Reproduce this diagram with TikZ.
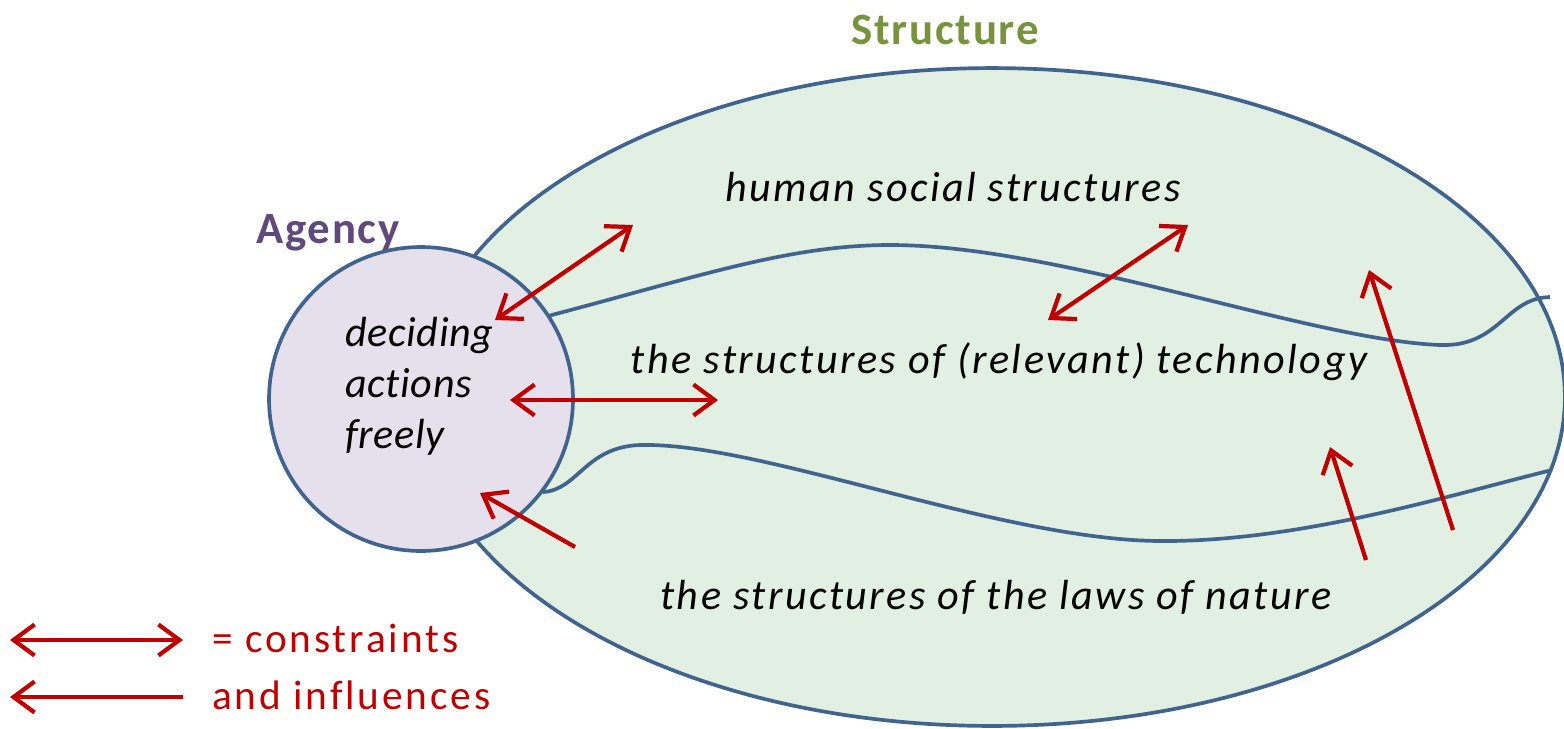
\documentclass[tikz,border=0pt]{standalone}
\usepackage{fontspec}
\setmainfont{Carlito}[Ligatures=NoCommon]
\usetikzlibrary{arrows.meta,shapes.geometric}
\definecolor{rimblue}{HTML}{41648F}
\definecolor{structfill}{HTML}{E2F0E3}
\definecolor{agentfill}{HTML}{E6E0EC}
\definecolor{linkred}{HTML}{C00000}
\definecolor{structgreen}{HTML}{77933C}
\definecolor{agentpurple}{HTML}{604A7B}
\tikzset{
  rim/.style={draw=rimblue, line width=2.1pt},
  link/.style={draw=linkred, line width=2.4pt,
    arrows={Straight Barb[length=4.2mm,width=6.2mm]-Straight Barb[length=4.2mm,width=6.2mm]}},
  pull/.style={draw=linkred, line width=2.4pt,
    arrows={-Straight Barb[length=4.2mm,width=6.2mm]}},
  realm/.style={font=\fontsize{24}{29}\selectfont\addfontfeature{LetterSpace=5.8}\itshape, text=black, inner sep=0pt},
  agenttext/.style={font=\fontsize{24}{29}\selectfont\addfontfeature{LetterSpace=1.5}\itshape, text=black, inner sep=0pt},
  heading/.style={font=\fontsize{25.5}{30}\selectfont\addfontfeature{LetterSpace=4}\bfseries, inner sep=0pt},
  legendtext/.style={font=\fontsize{23.5}{28}\selectfont\addfontfeature{LetterSpace=7}, text=linkred, inner sep=0pt, anchor=west}
}
\begin{document}
\begin{tikzpicture}[x=0.02cm, y=-0.02cm]
\useasboundingbox (0,0) rectangle (1564,728);

% the structure domain
\node[rim, fill=structfill, ellipse, minimum width=22.92cm, minimum height=13.16cm, inner sep=0pt] (structure) at (992,397) {};

% boundaries between the layers of structure
\draw[rim] (548,316) .. controls (700,276) and (790,245) .. (890,245)
  .. controls (1060,245) and (1310,340) .. (1440,345)
  .. controls (1500,347) and (1505,298) .. (1550,297);
\draw[rim] (543,492) .. controls (578,490) and (585,447) .. (640,445)
  .. controls (760,442) and (1000,540) .. (1160,541)
  .. controls (1300,542) and (1450,495) .. (1552,470);

% the agent
\node[rim, fill=agentfill, circle, minimum size=6.08cm, inner sep=0pt] (agent) at (421,399) {};

% labels
\node[heading, text=structgreen] (structlabel) at (945,30) {Structure};
\node[heading, text=agentpurple] (agentlabel) at (328,233) {Agency};
\node[realm] (social) at (953,187) {human social structures};
\node[realm] (tech) at (999,362) {the structures of (relevant) technology};
\node[realm] (nature) at (996,597) {the structures of the laws of nature};
\node[agenttext, align=left, anchor=west] (deciding) at (345,386) {deciding\\actions\\freely};

% constraints and influences
\coordinate (a1) at (495,320); \coordinate (b1) at (633,225);
\coordinate (a2) at (1048,320); \coordinate (b2) at (1188,225);
\coordinate (a3) at (510,400); \coordinate (b3) at (718,400);
\coordinate (s4) at (575,547); \coordinate (e4) at (480,493);
\coordinate (s5) at (1366,560); \coordinate (e5) at (1330,447);
\coordinate (s6) at (1453,530); \coordinate (e6) at (1369,270);
\draw[link] (a1) -- (b1);
\draw[link] (a2) -- (b2);
\draw[link] (a3) -- (b3);
\draw[pull] (s4) -- (e4);
\draw[pull] (s5) -- (e5);
\draw[pull] (s6) -- (e6);

% legend
\coordinate (l1a) at (10,640); \coordinate (l1b) at (183,640);
\coordinate (l2a) at (183,697); \coordinate (l2b) at (10,697);
\draw[link] (l1a) -- (l1b);
\draw[pull] (l2a) -- (l2b);
\node[legendtext] (legend1) at (212,638) {= constraints};
\node[legendtext] (legend2) at (212,695) {and influences};
\end{tikzpicture}
\end{document}
